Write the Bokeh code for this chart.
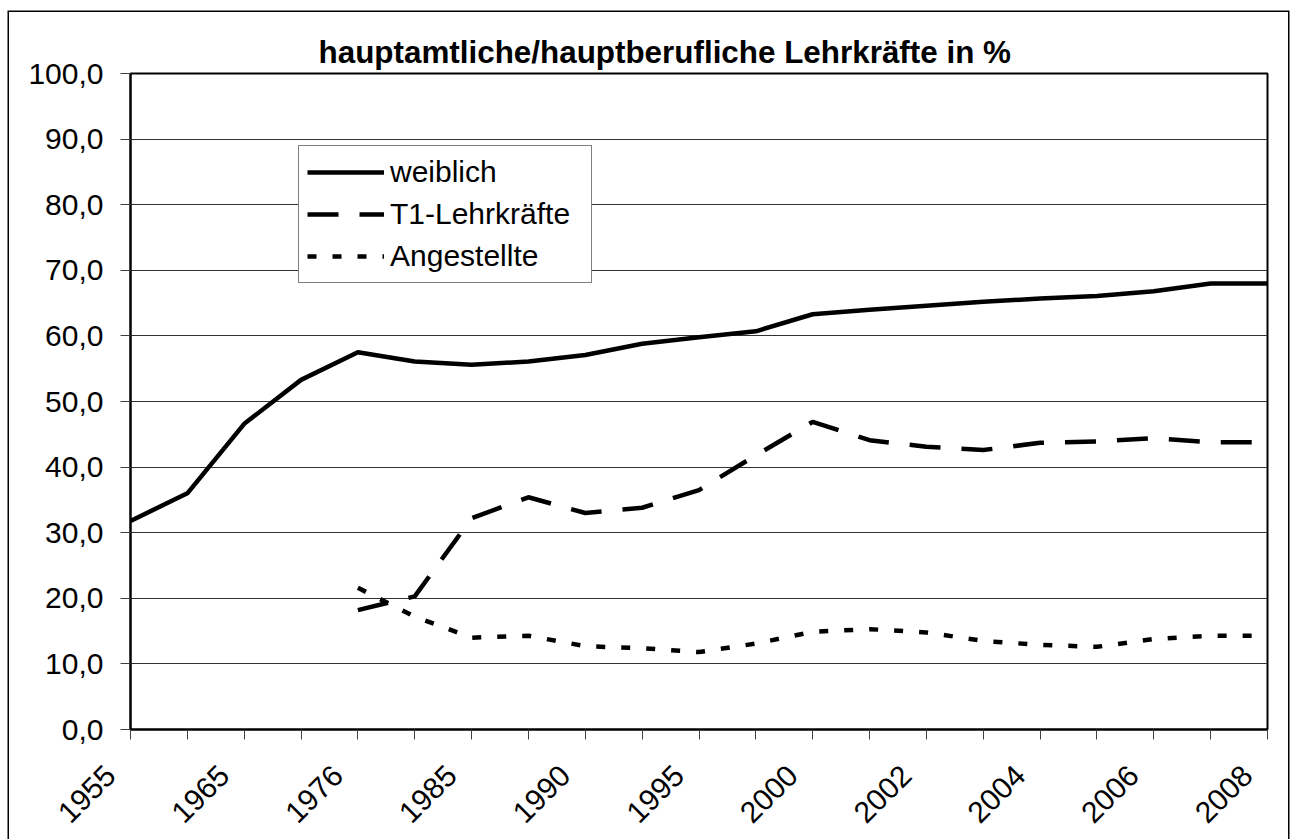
import numpy as np
from math import pi
from bokeh.plotting import figure
from bokeh.layouts import column, row
from bokeh.models import Range1d, FixedTicker, Legend, LegendItem
from bokeh.core.properties import value
from bokeh.embed import file_html
from bokeh.resources import INLINE

# ---------------- data ----------------
title_text = "hauptamtliche/hauptberufliche Lehrkräfte in %"
years = ["1955", "1960", "1965", "1970", "1976", "1980", "1985", "1988", "1990", "1993",
         "1995", "1998", "2000", "2001", "2002", "2003", "2004", "2005", "2006", "2007", "2008"]
shown_years = ["1955", "1965", "1976", "1985", "1990", "1995", "2000", "2002", "2004", "2006", "2008"]

weiblich = [31.8, 36.0, 46.6, 53.3, 57.5, 56.1, 55.6, 56.1, 57.1, 58.8, 59.8,
            60.7, 63.3, 64.0, 64.6, 65.2, 65.7, 66.1, 66.8, 68.0, 68.0]
t1_lehrkraefte = [None, None, None, None, 18.2, 20.3, 32.2, 35.4, 33.0, 33.8, 36.5,
                  41.8, 46.9, 44.1, 43.1, 42.6, 43.7, 43.9, 44.4, 43.8, 43.8]
angestellte = [None, None, None, None, 21.6, 17.2, 14.0, 14.3, 12.7, 12.4, 11.8,
               13.1, 14.9, 15.3, 14.8, 13.5, 12.9, 12.6, 13.8, 14.3, 14.3]

series_names = ["weiblich", "T1-Lehrkräfte", "Angestellte"]
y_ticks = [0, 10, 20, 30, 40, 50, 60, 70, 80, 90, 100]
y_tick_labels = ["0,0", "10,0", "20,0", "30,0", "40,0", "50,0", "60,0", "70,0", "80,0", "90,0", "100,0"]

# ---------------- layout constants ----------------
FONT = "Liberation Sans"
W = 1279
BORDER_L, BORDER_R, BORDER_T, BORDER_B = 121, 21, 61, 24
FRAME_H = 656
MAIN_H = BORDER_T + FRAME_H + BORDER_B
LAB_H = 86

def to_arr(vals):
    return np.array([np.nan if v is None else v for v in vals], dtype=float)

xs = list(range(len(years)))
x0, x1 = 0, len(years) - 1

# ---------------- main plot ----------------
p = figure(width=W, height=MAIN_H, output_backend="svg", toolbar_location=None,
           x_range=Range1d(x0, x1), y_range=Range1d(0, 100),
           min_border_left=BORDER_L, min_border_right=BORDER_R,
           min_border_top=BORDER_T, min_border_bottom=BORDER_B)
p.background_fill_color = "white"
p.border_fill_color = "white"
p.outline_line_color = "black"
p.outline_line_width = 2

p.title.text = title_text
p.title.text_font = FONT
p.title.text_font_size = "31.4px"
p.title.text_font_style = "bold"
p.title.text_color = "black"
p.title.align = "left"
p.title.offset = 188
p.title.standoff = 7

r1 = p.line(xs, to_arr(weiblich), line_color="black", line_width=4.5, line_join="round")
r2 = p.line(xs, to_arr(t1_lehrkraefte), line_color="black", line_width=4.5, line_dash="31 21")
r3 = p.line(xs, to_arr(angestellte), line_color="black", line_width=4.5, line_dash="9 16")

# x axis: a tick at every category; its labels are drawn in the strip below
p.xaxis.ticker = FixedTicker(ticks=xs)
p.xaxis.major_label_overrides = {i: "" for i in xs}
p.xaxis.major_label_text_font_size = "1px"
p.xaxis.major_label_standoff = 0
p.xaxis.minor_tick_line_color = None
p.xaxis.major_tick_out = 10
p.xaxis.major_tick_in = 0
p.xaxis.major_tick_line_color = "#404040"
p.xaxis.major_tick_line_width = 1
p.xaxis.axis_line_width = 2
p.xaxis.axis_line_color = "black"
p.xgrid.visible = False

p.yaxis.ticker = FixedTicker(ticks=y_ticks)
p.yaxis.major_label_overrides = {t: lab for t, lab in zip(y_ticks, y_tick_labels)}
p.yaxis.minor_tick_line_color = None
p.yaxis.major_tick_out = 10
p.yaxis.major_tick_in = 0
p.yaxis.major_tick_line_color = "#404040"
p.yaxis.axis_line_width = 2
p.yaxis.axis_line_color = "black"
p.yaxis.major_label_text_font = FONT
p.yaxis.major_label_text_font_size = "30px"
p.yaxis.major_label_text_color = "black"
p.yaxis.major_label_standoff = 17
p.ygrid.grid_line_color = "#333333"
p.ygrid.grid_line_width = 1

legend = Legend(
    items=[LegendItem(label=series_names[0], renderers=[r1]),
           LegendItem(label=series_names[1], renderers=[r2]),
           LegendItem(label=series_names[2], renderers=[r3])],
    location=(168, 446), margin=0, padding=8, spacing=6,
    glyph_width=77, glyph_height=36, label_height=36, label_standoff=6, label_width=193,
    border_line_color="black", border_line_width=1,
    background_fill_color="white", background_fill_alpha=1.0,
    label_text_font=FONT, label_text_font_size="30px", label_text_color="black",
)
p.add_layout(legend)

# ---------------- category label strip (same x scale as the plot frame) ----------------
frame_w = W - BORDER_L - BORDER_R
px_per_cat = frame_w / (x1 - x0)
q = figure(width=W, height=LAB_H, output_backend="svg", toolbar_location=None,
           x_axis_location=None, y_axis_location=None, title=None,
           x_range=Range1d(x0 - BORDER_L / px_per_cat, x1 + BORDER_R / px_per_cat),
           y_range=Range1d(0, LAB_H),
           min_border_left=0, min_border_right=0, min_border_top=0, min_border_bottom=0)
q.grid.visible = False
q.outline_line_color = None
q.background_fill_color = "white"
q.border_fill_color = "white"

lab_x = [i for i, y in enumerate(years) if y in shown_years]
lab_t = [y for y in years if y in shown_years]
q.text(x=lab_x, y=[LAB_H - 17] * len(lab_x), text=lab_t, angle=pi / 4,
       x_offset=-20, text_align="right", text_baseline="middle",
       text_font=value(FONT), text_font_size=value("30px"), text_color="black")

layout = column(p, row(q), spacing=0,
                styles={"margin-left": "9px", "margin-top": "12px",
                        "box-shadow": "0 0 0 1.5px #000000"})

open("out.html", "w").write(file_html(layout, INLINE))
